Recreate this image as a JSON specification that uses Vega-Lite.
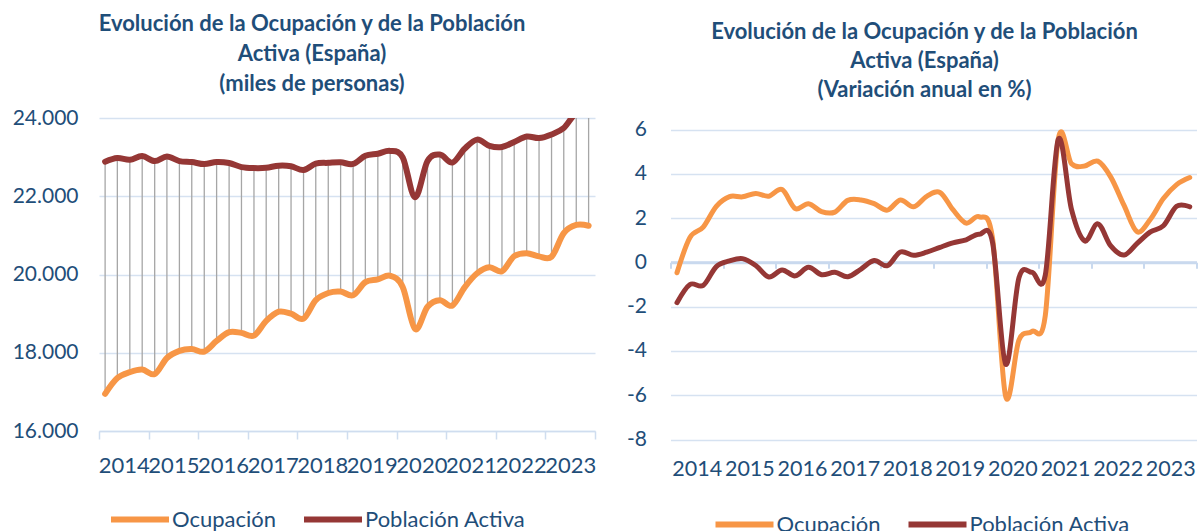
{
  "$schema": "https://vega.github.io/schema/vega-lite/v6.json",
  "padding": {"left": 0, "top": 13, "right": 0, "bottom": 0},
  "background": "white",
  "config": {
    "locale": {"number": {"decimal": ",", "thousands": ".", "grouping": [3], "currency": ["", " €"], "minus": "-"}},
    "font": "Lato",
    "view": {"stroke": null},
    "axis": {"labelFont": "Lato", "labelFontSize": 21, "labelColor": "#1F4E79", "gridColor": "#D6E2F1", "gridWidth": 1.5, "domainColor": "#CFDDEF", "tickColor": "#CFDDEF", "title": null},
    "legend": {"orient": "none", "direction": "horizontal", "symbolType": "stroke", "symbolSize": 3364, "symbolStrokeWidth": 6, "labelFontSize": 22, "labelFont": "Lato", "labelColor": "#1F4E79", "labelLimit": 400, "columnPadding": 15, "labelOffset": 0, "title": null, "padding": 0},
    "title": {"font": "Lato", "fontSize": 22, "fontWeight": "bold", "color": "#1F4E79", "lineHeight": 30, "anchor": "middle"}
  },
  "datasets": {
    "niveles": [
      {"fecha": "2014-02-15", "Ocupación": 16950.6, "Población Activa": 22883.9},
      {"fecha": "2014-05-16", "Ocupación": 17353.0, "Población Activa": 22975.9},
      {"fecha": "2014-08-16", "Ocupación": 17504.0, "Población Activa": 22931.7},
      {"fecha": "2014-11-15", "Ocupación": 17569.1, "Población Activa": 23026.8},
      {"fecha": "2015-02-15", "Ocupación": 17454.8, "Población Activa": 22899.4},
      {"fecha": "2015-05-16", "Ocupación": 17866.5, "Población Activa": 23015.5},
      {"fecha": "2015-08-16", "Ocupación": 18048.7, "Población Activa": 22899.2},
      {"fecha": "2015-11-15", "Ocupación": 18094.2, "Población Activa": 22873.7},
      {"fecha": "2016-02-15", "Ocupación": 18029.6, "Población Activa": 22821.7},
      {"fecha": "2016-05-16", "Ocupación": 18301.0, "Población Activa": 22875.9},
      {"fecha": "2016-08-16", "Ocupación": 18527.5, "Población Activa": 22848.2},
      {"fecha": "2016-11-15", "Ocupación": 18508.1, "Población Activa": 22745.9},
      {"fecha": "2017-02-15", "Ocupación": 18438.3, "Población Activa": 22720.0},
      {"fecha": "2017-05-16", "Ocupación": 18813.3, "Población Activa": 22727.4},
      {"fecha": "2017-08-16", "Ocupación": 19049.2, "Población Activa": 22780.2},
      {"fecha": "2017-11-15", "Ocupación": 18998.4, "Población Activa": 22765.0},
      {"fecha": "2018-02-15", "Ocupación": 18874.2, "Población Activa": 22670.3},
      {"fecha": "2018-05-16", "Ocupación": 19344.1, "Población Activa": 22834.2},
      {"fecha": "2018-08-16", "Ocupación": 19528.0, "Población Activa": 22854.0},
      {"fecha": "2018-11-15", "Ocupación": 19564.6, "Población Activa": 22868.8},
      {"fecha": "2019-02-15", "Ocupación": 19471.1, "Población Activa": 22825.4},
      {"fecha": "2019-05-16", "Ocupación": 19804.9, "Población Activa": 23035.5},
      {"fecha": "2019-08-16", "Ocupación": 19874.3, "Población Activa": 23088.0},
      {"fecha": "2019-11-15", "Ocupación": 19966.9, "Población Activa": 23158.8},
      {"fecha": "2020-02-15", "Ocupación": 19681.3, "Población Activa": 22994.3},
      {"fecha": "2020-05-16", "Ocupación": 18607.2, "Población Activa": 21975.2},
      {"fecha": "2020-08-16", "Ocupación": 19176.9, "Población Activa": 22899.8},
      {"fecha": "2020-11-15", "Ocupación": 19344.3, "Población Activa": 23064.1},
      {"fecha": "2021-02-15", "Ocupación": 19206.8, "Población Activa": 22860.7},
      {"fecha": "2021-05-16", "Ocupación": 19671.7, "Población Activa": 23215.5},
      {"fecha": "2021-08-16", "Ocupación": 20031.0, "Población Activa": 23447.7},
      {"fecha": "2021-11-15", "Ocupación": 20184.9, "Población Activa": 23288.7},
      {"fecha": "2022-02-15", "Ocupación": 20084.7, "Población Activa": 23259.4},
      {"fecha": "2022-05-16", "Ocupación": 20468.0, "Población Activa": 23387.4},
      {"fecha": "2022-08-16", "Ocupación": 20545.7, "Población Activa": 23525.9},
      {"fecha": "2022-11-15", "Ocupación": 20463.9, "Población Activa": 23487.9},
      {"fecha": "2023-02-15", "Ocupación": 20452.8, "Población Activa": 23580.6},
      {"fecha": "2023-05-16", "Ocupación": 21056.7, "Población Activa": 23744.8},
      {"fecha": "2023-08-16", "Ocupación": 21265.9, "Población Activa": 24121.1},
      {"fecha": "2023-11-15", "Ocupación": 21246.9, "Población Activa": 24077.5}
    ],
    "variacion": [
      {"fecha": "2014-02-15", "Ocupación": -0.47, "Población Activa": -1.82},
      {"fecha": "2014-05-16", "Ocupación": 1.12, "Población Activa": -1.00},
      {"fecha": "2014-08-16", "Ocupación": 1.59, "Población Activa": -1.04},
      {"fecha": "2014-11-15", "Ocupación": 2.53, "Población Activa": -0.19},
      {"fecha": "2015-02-15", "Ocupación": 2.97, "Población Activa": 0.07},
      {"fecha": "2015-05-16", "Ocupación": 2.96, "Población Activa": 0.17},
      {"fecha": "2015-08-16", "Ocupación": 3.11, "Población Activa": -0.14},
      {"fecha": "2015-11-15", "Ocupación": 2.99, "Población Activa": -0.66},
      {"fecha": "2016-02-15", "Ocupación": 3.29, "Población Activa": -0.34},
      {"fecha": "2016-05-16", "Ocupación": 2.43, "Población Activa": -0.61},
      {"fecha": "2016-08-16", "Ocupación": 2.65, "Población Activa": -0.22},
      {"fecha": "2016-11-15", "Ocupación": 2.29, "Población Activa": -0.56},
      {"fecha": "2017-02-15", "Ocupación": 2.27, "Población Activa": -0.45},
      {"fecha": "2017-05-16", "Ocupación": 2.80, "Población Activa": -0.65},
      {"fecha": "2017-08-16", "Ocupación": 2.82, "Población Activa": -0.30},
      {"fecha": "2017-11-15", "Ocupación": 2.65, "Población Activa": 0.08},
      {"fecha": "2018-02-15", "Ocupación": 2.36, "Población Activa": -0.15},
      {"fecha": "2018-05-16", "Ocupación": 2.82, "Población Activa": 0.47},
      {"fecha": "2018-08-16", "Ocupación": 2.51, "Población Activa": 0.32},
      {"fecha": "2018-11-15", "Ocupación": 2.98, "Población Activa": 0.46},
      {"fecha": "2019-02-15", "Ocupación": 3.16, "Población Activa": 0.68},
      {"fecha": "2019-05-16", "Ocupación": 2.38, "Población Activa": 0.88},
      {"fecha": "2019-08-16", "Ocupación": 1.77, "Población Activa": 1.02},
      {"fecha": "2019-11-15", "Ocupación": 2.06, "Población Activa": 1.27},
      {"fecha": "2020-02-15", "Ocupación": 1.08, "Población Activa": 0.90},
      {"fecha": "2020-05-16", "Ocupación": -6.05, "Población Activa": -4.60},
      {"fecha": "2020-08-16", "Ocupación": -3.51, "Población Activa": -0.70},
      {"fecha": "2020-11-15", "Ocupación": -3.12, "Población Activa": -0.45},
      {"fecha": "2021-02-15", "Ocupación": -2.41, "Población Activa": -0.58},
      {"fecha": "2021-05-16", "Ocupación": 5.55, "Población Activa": 5.55},
      {"fecha": "2021-08-16", "Ocupación": 4.45, "Población Activa": 2.39},
      {"fecha": "2021-11-15", "Ocupación": 4.35, "Población Activa": 0.97},
      {"fecha": "2022-02-15", "Ocupación": 4.57, "Población Activa": 1.74},
      {"fecha": "2022-05-16", "Ocupación": 3.85, "Población Activa": 0.74},
      {"fecha": "2022-08-16", "Ocupación": 2.57, "Población Activa": 0.33},
      {"fecha": "2022-11-15", "Ocupación": 1.38, "Población Activa": 0.86},
      {"fecha": "2023-02-15", "Ocupación": 1.95, "Población Activa": 1.38},
      {"fecha": "2023-05-16", "Ocupación": 2.88, "Población Activa": 1.65},
      {"fecha": "2023-08-16", "Ocupación": 3.51, "Población Activa": 2.53},
      {"fecha": "2023-11-15", "Ocupación": 3.83, "Población Activa": 2.51}
    ]
  },
  "spacing": 0.5,
  "resolve": {"scale": {"color": "independent"}},
  "hconcat": [
    {
      "width": 496,
      "height": 313,
      "title": {"text": ["Evolución de la Ocupación y de la Población", "Activa (España)", "(miles de personas)"], "offset": 11, "dx": -35},
      "data": {"name": "niveles"},
      "encoding": {
        "x": {
          "field": "fecha", "type": "temporal",
          "scale": {"type": "utc", "domain": [{"year": 2014, "month": 1, "date": 1, "utc": true}, {"year": 2024, "month": 1, "date": 1, "utc": true}]},
          "axis": {
            "values": [
              {"year": 2014, "month": 1, "date": 1, "utc": true}, {"year": 2015, "month": 1, "date": 1, "utc": true},
              {"year": 2016, "month": 1, "date": 1, "utc": true}, {"year": 2017, "month": 1, "date": 1, "utc": true},
              {"year": 2018, "month": 1, "date": 1, "utc": true}, {"year": 2019, "month": 1, "date": 1, "utc": true},
              {"year": 2020, "month": 1, "date": 1, "utc": true}, {"year": 2021, "month": 1, "date": 1, "utc": true},
              {"year": 2022, "month": 1, "date": 1, "utc": true}, {"year": 2023, "month": 1, "date": 1, "utc": true},
              {"year": 2024, "month": 1, "date": 1, "utc": true}
            ],
            "labelExpr": "utcFormat(datum.value, '%Y') == '2024' ? '' : utcFormat(datum.value, '%Y')",
            "labelOffset": 24.8, "labelFlush": false, "labelOverlap": false, "labelAlign": "center", "labelFontSize": 22,
            "tickSize": 8, "tickWidth": 1.5, "domainWidth": 1.5, "grid": false, "labelPadding": 16
          }
        }
      },
      "layer": [
        {
          "mark": {"type": "rule", "color": "#A6A6A6", "strokeWidth": 1.3, "clip": true},
          "encoding": {
            "y": {"field": "Ocupación", "type": "quantitative",
              "scale": {"domain": [16000, 24000], "nice": false, "zero": false},
              "axis": {"values": [16000, 18000, 20000, 22000, 24000], "format": ",.0f", "domain": false, "ticks": false, "grid": true, "labelPadding": 21, "minExtent": 99, "maxExtent": 99}},
            "y2": {"field": "Población Activa"}
          }
        },
        {
          "transform": [{"fold": ["Ocupación", "Población Activa"], "as": ["serie", "valor"]}],
          "mark": {"type": "line", "strokeWidth": 6, "interpolate": "cardinal", "clip": true, "strokeCap": "round", "strokeJoin": "round"},
          "encoding": {
            "y": {"field": "valor", "type": "quantitative"},
            "color": {"field": "serie", "type": "nominal",
              "scale": {"domain": ["Ocupación", "Población Activa"], "range": ["#F79646", "#953735"]},
              "legend": {"legendX": 9, "legendY": 369.5}}
          }
        }
      ]
    },
    {
      "width": 526,
      "height": 321.5,
      "title": {"text": ["Evolución de la Ocupación y de la Población", "Activa (España)", "(Variación anual en %)"], "offset": 16.5, "dx": -9, "lineHeight": 29},
      "data": {"name": "variacion"},
      "transform": [{"fold": ["Ocupación", "Población Activa"], "as": ["serie", "valor"]}],
      "mark": {"type": "line", "strokeWidth": 5, "interpolate": "cardinal", "strokeCap": "round", "strokeJoin": "round"},
      "encoding": {
        "x": {
          "field": "fecha", "type": "temporal",
          "scale": {"type": "utc", "domain": [{"year": 2014, "month": 1, "date": 1, "utc": true}, {"year": 2024, "month": 1, "date": 1, "utc": true}]},
          "axis": {
            "values": [
              {"year": 2014, "month": 1, "date": 1, "utc": true}, {"year": 2015, "month": 1, "date": 1, "utc": true},
              {"year": 2016, "month": 1, "date": 1, "utc": true}, {"year": 2017, "month": 1, "date": 1, "utc": true},
              {"year": 2018, "month": 1, "date": 1, "utc": true}, {"year": 2019, "month": 1, "date": 1, "utc": true},
              {"year": 2020, "month": 1, "date": 1, "utc": true}, {"year": 2021, "month": 1, "date": 1, "utc": true},
              {"year": 2022, "month": 1, "date": 1, "utc": true}, {"year": 2023, "month": 1, "date": 1, "utc": true},
              {"year": 2024, "month": 1, "date": 1, "utc": true}
            ],
            "labelExpr": "utcFormat(datum.value, '%Y') == '2024' ? '' : utcFormat(datum.value, '%Y')",
            "labelOffset": 26.3, "labelFlush": false, "labelOverlap": false, "labelAlign": "center", "labelFontSize": 21.5,
            "offset": -177.14, "tickSize": 6, "tickWidth": 2, "domainWidth": 3, "domainColor": "#C9D9EE", "tickColor": "#C9D9EE",
            "grid": false, "labelPadding": 190
          }
        },
        "y": {"field": "valor", "type": "quantitative",
          "scale": {"domain": [-8, 6.52], "nice": false, "zero": false},
          "axis": {"values": [-8, -6, -4, -2, 0, 2, 4, 6], "domain": false, "ticks": false, "grid": true, "labelPadding": 24, "minExtent": 50, "maxExtent": 50}},
        "color": {"field": "serie", "type": "nominal",
          "scale": {"domain": ["Ocupación", "Población Activa"], "range": ["#F79646", "#953735"]},
          "legend": {"legendX": 42, "legendY": 374.5}}
      }
    }
  ]
}
